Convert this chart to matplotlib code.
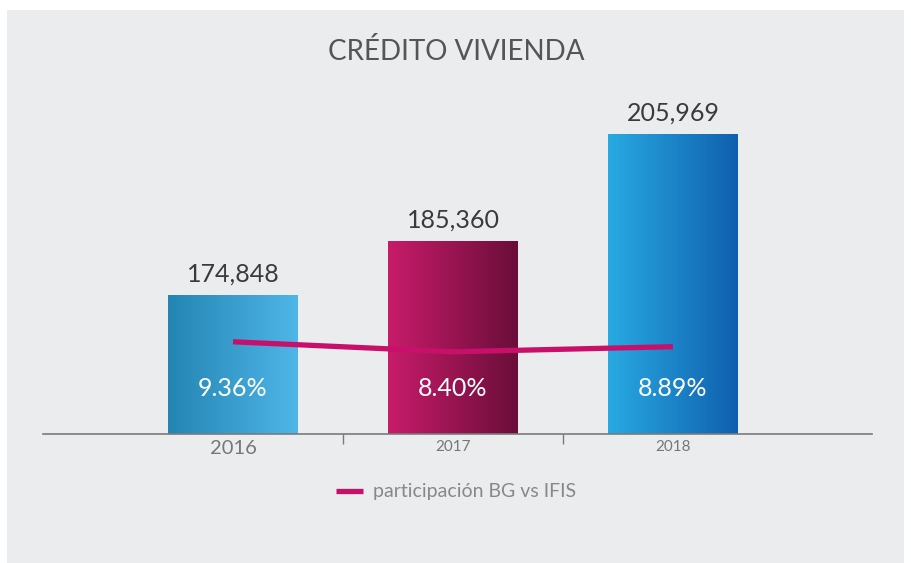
import numpy as np
import matplotlib
matplotlib.use("Agg")
import matplotlib.pyplot as plt
from matplotlib.patches import Rectangle
from matplotlib.colors import LinearSegmentedColormap

plt.rcParams['font.family'] = ['Lato', 'DejaVu Sans']

years = ['2016', '2017', '2018']
montos = [174848, 185360, 205969]
participacion = [9.36, 8.40, 8.89]
pct_labels = ['9.36%', '8.40%', '8.89%']

# left/right colours of each bar gradient
grad_colors = [('#2385b3', '#4fb6e8'),
               ('#c81b6a', '#6a0e39'),
               ('#28aae2', '#0f5fae')]
line_color = '#c8106a'

fig = plt.figure(figsize=(9.11, 5.63), dpi=100)
fig.patch.set_facecolor('white')
fig.patches.append(Rectangle((7 / 911, 0), 897 / 911, 553 / 563,
                             transform=fig.transFigure, facecolor='#ebecee',
                             edgecolor='none', zorder=-10))

ax = fig.add_axes([43 / 911, 129 / 563, 829 / 911, 300 / 563])
ax.set_facecolor('none')

x = np.arange(len(years))
ymin = 148000
bars = ax.bar(x, np.array(montos) - ymin, bottom=ymin, width=0.59,
              color='none', edgecolor='none')

for bar, (c0, c1) in zip(bars, grad_colors):
    cmap = LinearSegmentedColormap.from_list('g', [c0, c1])
    bx, by = bar.get_x(), bar.get_y()
    img = ax.imshow(np.linspace(0, 1, 256).reshape(1, -1), cmap=cmap,
                    extent=(bx, bx + bar.get_width(), by, by + bar.get_height()),
                    aspect='auto', zorder=1)
    img.set_clip_path(bar)

ax.set_xlim(-0.864, 2.905)
ax.set_ylim(ymin, max(montos))

for xi, v in zip(x, montos):
    ax.annotate(f'{v:,}', (xi, v), xytext=(0, 15), textcoords='offset points',
                ha='center', va='center', fontsize=18, color='#3a3a3a')
for xi, lab in zip(x, pct_labels):
    ax.annotate(lab, (xi, ymin), xytext=(0, 33), textcoords='offset points',
                ha='center', va='center', fontsize=18, color='white', zorder=5)

for s in ['top', 'left', 'right']:
    ax.spines[s].set_visible(False)
ax.spines['bottom'].set_color('#7a7a7a')
ax.spines['bottom'].set_linewidth(1.2)
ax.set_yticks([])
ax.set_xticks(x)
ax.set_xticklabels(years, color='#777777')
ax.tick_params(axis='x', which='major', length=0, pad=4)
ax.set_xticks([0.5, 1.5], minor=True)
ax.tick_params(axis='x', which='minor', length=7, color='#7a7a7a', width=1)
for i, t in enumerate(ax.get_xticklabels()):
    t.set_fontsize(14.5 if i == 0 else 11)

ax2 = ax.twinx()
ax2.set_ylim(0.51, 29.3)
ax2.set_yticks([])
for s in ax2.spines.values():
    s.set_visible(False)
ax2.plot(x, participacion, color=line_color, lw=3.8, solid_capstyle='butt',
         solid_joinstyle='round', label='participación BG vs IFIS', zorder=4)

fig.legend(loc='center', bbox_to_anchor=(456 / 911, 71 / 563), frameon=False,
           fontsize=14, labelcolor='#888888', handlelength=1.4,
           handletextpad=0.5)

fig.text(456 / 911, 1 - 52 / 563, 'CRÉDITO VIVIENDA', ha='center', va='center',
         fontsize=20, color='#555555')

fig.savefig('out.png', dpi=100)
